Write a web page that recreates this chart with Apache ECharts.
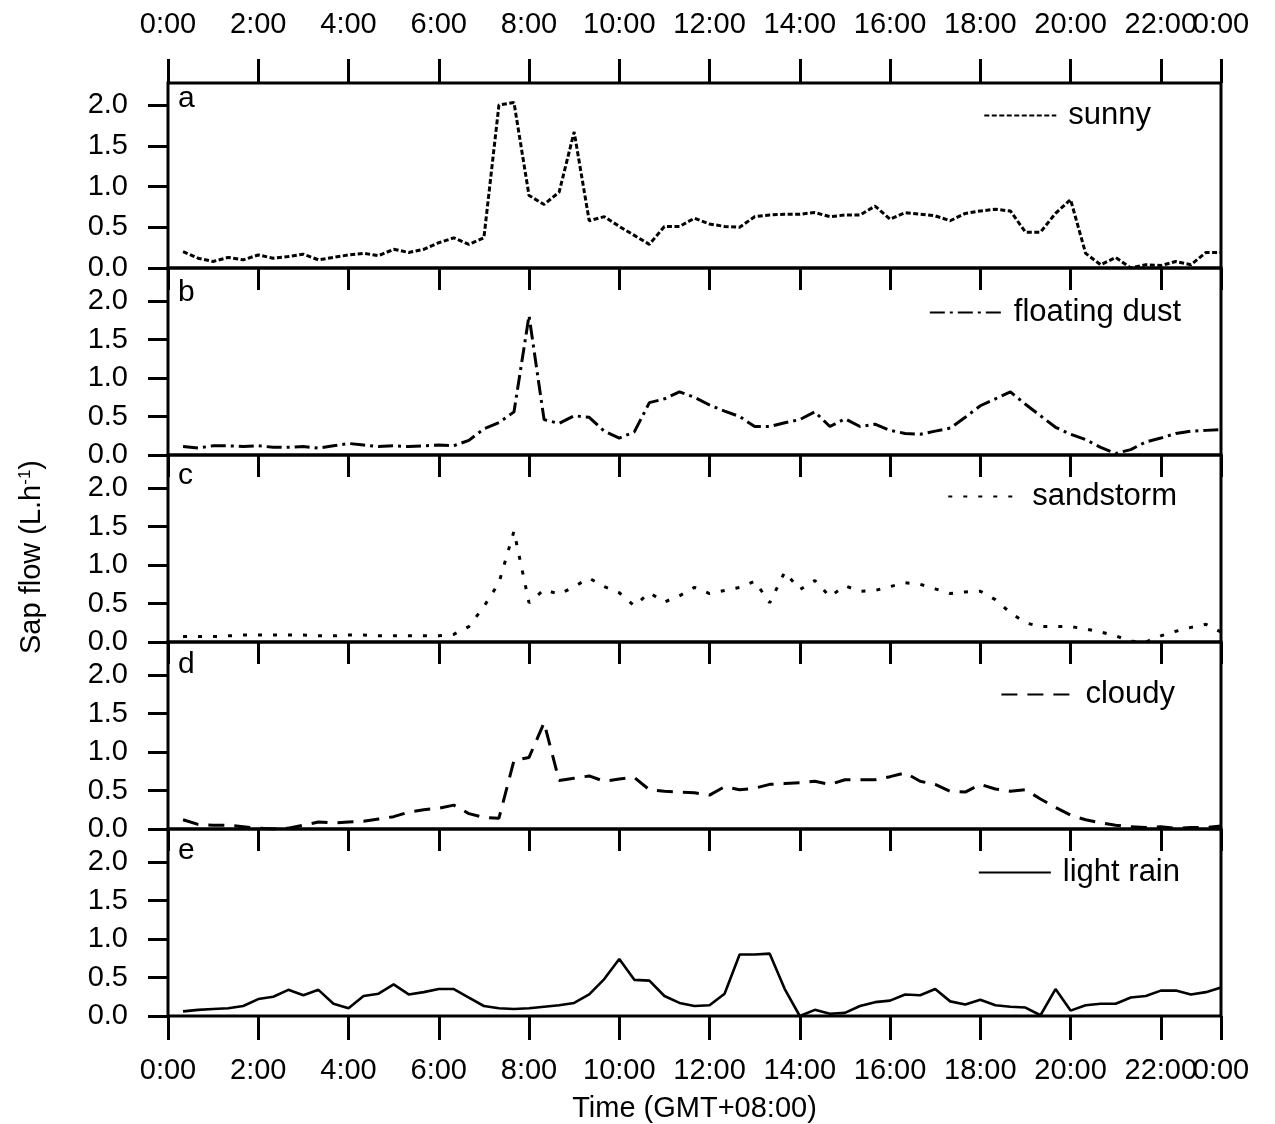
<!DOCTYPE html>
<html>
<head>
<meta charset="utf-8">
<script src="https://cdn.jsdelivr.net/npm/echarts@6/dist/echarts.min.js"></script>
<style>
html,body{margin:0;padding:0;background:#fff;}
#chart{width:1275px;height:1124px;}
</style>
</head>
<body>
<div id="chart"></div>
<script>
// time of day in minutes (20-min sampling, 0:20 .. 23:20)
const minutes = [20,40,60,80,100,120,140,160,180,200,220,240,260,280,300,320,340,360,380,400,420,
  440,460,480,500,520,540,560,580,600,620,640,660,680,700,720,740,760,780,800,820,840,
  860,880,900,920,940,960,980,1000,1020,1040,1060,1080,1100,1120,1140,1160,1180,1200,1220,1240,1260,1280,1300,1320,1340,1360,1380,1400];

const panelLetters = ['a','b','c','d','e'];
const seriesNames = ['sunny','floating dust','sandstorm','cloudy','light rain'];
const yTickValues = [0, 0.5, 1.0, 1.5, 2.0];
const xTickValues = [0,120,240,360,480,600,720,840,960,1080,1200,1320];
const xEndValue = [1400];
const xAxisTitle = 'Time (GMT+08:00)';

const sunny = [0.20,0.12,0.08,0.13,0.10,0.16,0.12,0.14,0.17,0.10,0.13,0.16,0.18,0.15,0.23,0.19,0.23,0.31,0.37,0.29,0.37,
  2.00,2.03,0.89,0.78,0.93,1.67,0.58,0.63,0.51,0.40,0.29,0.51,0.51,0.61,0.54,0.51,0.50,0.63,0.65,0.66,0.66,
  0.68,0.63,0.65,0.65,0.76,0.60,0.68,0.66,0.64,0.58,0.67,0.70,0.72,0.70,0.44,0.44,0.67,0.84,0.18,0.04,0.13,0.00,0.04,0.03,0.08,0.04,0.19,0.19];

const floatingDust = [0.11,0.09,0.12,0.12,0.11,0.12,0.10,0.10,0.11,0.09,0.12,0.15,0.13,0.11,0.12,0.11,0.12,0.13,0.12,0.19,0.34,
  0.42,0.56,1.81,0.46,0.41,0.51,0.49,0.31,0.22,0.30,0.68,0.73,0.82,0.75,0.65,0.57,0.50,0.37,0.37,0.42,0.46,
  0.56,0.37,0.47,0.37,0.40,0.32,0.28,0.27,0.31,0.35,0.49,0.64,0.73,0.82,0.66,0.51,0.36,0.27,0.20,0.10,0.02,0.07,0.17,0.22,0.28,0.31,0.32,0.33];

const sandstorm = [0.07,0.07,0.07,0.08,0.09,0.09,0.09,0.09,0.09,0.08,0.08,0.09,0.09,0.08,0.08,0.08,0.08,0.08,0.10,0.20,0.46,
  0.77,1.44,0.51,0.68,0.62,0.72,0.83,0.72,0.64,0.47,0.64,0.52,0.60,0.71,0.63,0.67,0.71,0.79,0.51,0.91,0.68,
  0.80,0.59,0.73,0.66,0.67,0.72,0.77,0.75,0.69,0.63,0.65,0.66,0.55,0.38,0.25,0.20,0.20,0.20,0.17,0.13,0.08,0.01,0.00,0.08,0.14,0.19,0.23,0.13];

const cloudy = [0.12,0.06,0.05,0.05,0.03,0.01,0.00,0.01,0.05,0.09,0.08,0.09,0.10,0.13,0.16,0.22,0.25,0.27,0.31,0.20,0.15,
  0.14,0.89,0.93,1.38,0.63,0.66,0.69,0.62,0.65,0.67,0.51,0.49,0.48,0.47,0.44,0.55,0.51,0.53,0.58,0.59,0.60,
  0.62,0.58,0.64,0.64,0.64,0.68,0.73,0.62,0.58,0.49,0.48,0.58,0.52,0.49,0.51,0.39,0.28,0.18,0.12,0.08,0.05,0.03,0.02,0.03,0.01,0.02,0.02,0.04];

const lightRain = [0.06,0.08,0.09,0.10,0.13,0.22,0.25,0.34,0.27,0.34,0.16,0.10,0.26,0.29,0.41,0.28,0.31,0.35,0.35,0.24,0.13,
  0.10,0.09,0.10,0.12,0.14,0.17,0.28,0.48,0.74,0.47,0.46,0.26,0.17,0.13,0.14,0.29,0.80,0.80,0.81,0.35,0.00,
  0.08,0.03,0.04,0.13,0.18,0.20,0.28,0.27,0.35,0.19,0.15,0.21,0.14,0.12,0.11,0.01,0.35,0.07,0.14,0.16,0.16,0.24,0.26,0.33,0.33,0.28,0.31,0.37];

const allValues = [sunny, floatingDust, sandstorm, cloudy, lightRain];

// ---- layout / style ----
const FONT = '"Liberation Sans", Arial, sans-serif';
const gridTops = [83, 268, 455, 642, 829];
const gridHeights = [185, 187, 187, 187, 187];
const yMaxes = [2.27, 2.43, 2.43, 2.43, 2.43];
const dashTypes = [[5, 2.5], [15, 5, 3, 5], [4, 11], [16, 10], 'solid'];
const lineWidths = [3, 3, 3, 3, 2.6];
const legendTop = [95, 292, 476, 674, 852];
const legendRight = [119, 89, 93, 95, 90];
const letterY = [99, 293, 476, 665, 851];

const XMAX = 1400;
const fmtTime = v => (v >= XMAX ? '0:00' : (Math.round(v / 60) + ':00'));
const TOP_MARGIN = 44, BOTTOM_MARGIN = 40;

const grids = [], xAxes = [], yAxes = [], series = [], legends = [], graphics = [];

function labelStyle(show, values, margin) {
  return { show: show, formatter: fmtTime, color: '#000', fontSize: 29, fontFamily: FONT, margin: margin,
           customValues: values, showMaxLabel: true, showMinLabel: true, hideOverlap: false };
}

for (let i = 0; i < 5; i++) {
  grids.push({
    left: 168, right: 54, top: gridTops[i], height: gridHeights[i],
    show: true, borderColor: '#000', borderWidth: 3, backgroundColor: 'transparent'
  });
  const isLast = i === 4, isFirst = i === 0;
  // bottom x axis (data axis)
  const bottomIndex = xAxes.length;
  xAxes.push({
    type: 'value', gridIndex: i, position: 'bottom', min: 0, max: XMAX, interval: 120,
    axisLine: { show: false }, splitLine: { show: false },
    axisTick: { show: isLast, inside: false, length: 24, lineStyle: { color: '#000', width: 3 } },
    axisLabel: labelStyle(isLast, xTickValues, BOTTOM_MARGIN),
    name: isLast ? xAxisTitle : '',
    nameLocation: 'middle', nameGap: 78,
    nameTextStyle: { color: '#000', fontSize: 29, fontFamily: FONT }
  });
  if (isLast) {
    // end-of-day label at the right end of the bottom axis
    xAxes.push({
      type: 'value', gridIndex: i, position: 'bottom', min: 0, max: XMAX, interval: 120,
      axisLine: { show: false }, splitLine: { show: false }, axisTick: { show: false },
      axisLabel: labelStyle(true, xEndValue, BOTTOM_MARGIN)
    });
  }
  // top x axis
  xAxes.push({
    type: 'value', gridIndex: i, position: 'top', min: 0, max: XMAX, interval: 120,
    axisLine: { show: false }, splitLine: { show: false },
    axisTick: { show: true, inside: !isFirst, length: isFirst ? 24 : 22, lineStyle: { color: '#000', width: 3 } },
    axisLabel: labelStyle(isFirst, xTickValues, TOP_MARGIN)
  });
  if (isFirst) {
    xAxes.push({
      type: 'value', gridIndex: i, position: 'top', min: 0, max: XMAX, interval: 120,
      axisLine: { show: false }, splitLine: { show: false }, axisTick: { show: false },
      axisLabel: labelStyle(true, xEndValue, TOP_MARGIN)
    });
  }
  yAxes.push({
    type: 'value', gridIndex: i, min: 0, max: yMaxes[i],
    axisLine: { show: false }, splitLine: { show: false },
    axisTick: { show: true, inside: false, length: 20, lineStyle: { color: '#000', width: 3 }, customValues: yTickValues },
    axisLabel: { color: '#000', fontSize: 29, fontFamily: FONT, margin: 40, customValues: yTickValues, formatter: v => v.toFixed(1) }
  });
  series.push({
    name: seriesNames[i], type: 'line', xAxisIndex: bottomIndex, yAxisIndex: i,
    data: minutes.map((m, k) => [m, allValues[i][k]]),
    symbol: 'none', showSymbol: false, clip: true,
    lineStyle: { color: '#000', width: lineWidths[i], type: dashTypes[i], cap: 'butt' },
    itemStyle: { color: '#000' }
  });
  legends.push({
    data: [seriesNames[i]], right: legendRight[i], top: legendTop[i], orient: 'horizontal',
    itemWidth: 72, itemHeight: 12, selectedMode: false,
    itemStyle: { color: 'rgba(0,0,0,0)', borderWidth: 0, opacity: 0 },
    textStyle: { color: '#000', fontSize: 31, fontFamily: FONT, padding: [0, 0, 0, 7] }
  });
  graphics.push({
    type: 'text', x: 178, y: letterY[i],
    style: { text: panelLetters[i], fontSize: 30, fontFamily: FONT, fill: '#000', align: 'left', verticalAlign: 'middle' }
  });
}

graphics.push({
  type: 'text', x: 32, y: 557, rotation: Math.PI / 2,
  style: {
    text: 'Sap flow (L.h{sup|-1})', fontSize: 29, fontFamily: FONT, fill: '#000',
    align: 'center', verticalAlign: 'middle',
    rich: { sup: { fontSize: 17, fontFamily: FONT, fill: '#000', verticalAlign: 'top', padding: [0, 0, 14, 0] } }
  }
});

const chart = echarts.init(document.getElementById('chart'), null, { renderer: 'canvas' });
chart.setOption({
  animation: false,
  backgroundColor: '#fff',
  grid: grids,
  xAxis: xAxes,
  yAxis: yAxes,
  series: series,
  legend: legends,
  graphic: graphics
});
</script>
</body>
</html>
